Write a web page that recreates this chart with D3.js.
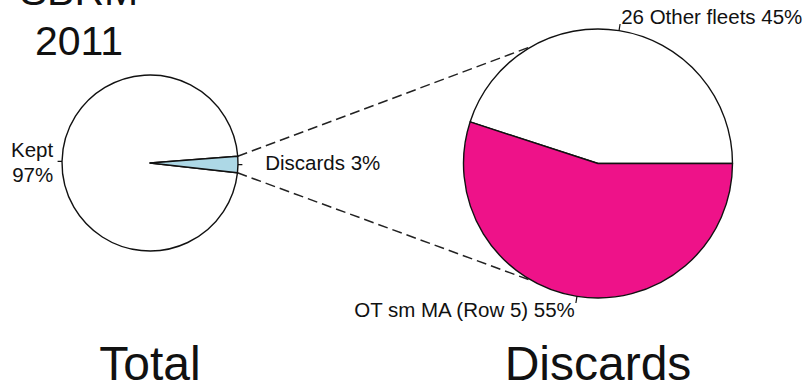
<!DOCTYPE html>
<html>
<head>
<meta charset="utf-8">
<script src="https://cdn.jsdelivr.net/npm/d3@7"></script>
<style>
  body { margin: 0; background: #fff; }
  text { font-family: "Liberation Sans", Arial, sans-serif; fill: #111; }
</style>
</head>
<body>
<div id="chart"></div>
<script>
// data
const titleLines = ["SBRM", "2011"];
const totalLabels = ["Kept", "Discards"];
const totalValues = [97, 3];
const totalColors = ["#ffffff", "#add8e6"];
const discardLabels = ["26 Other fleets", "OT sm MA (Row 5)"];
const discardValues = [45, 55];
const discardColors = ["#ffffff", "#ee1289"];
const panelTitles = ["Total", "Discards"];

const width = 807, height = 385;
const deg = Math.PI / 180;

const svg = d3.select('#chart').append('svg')
    .attr('width', width)
    .attr('height', height);

// layout
const left = { cx: 150, cy: 163, r: 88, start: 4.4 };   // start angle in degrees, counter-clockwise from east (like R)
const right = { cx: 598, cy: 163.5, r: 134.5, start: 0 };

// R style angle (ccw from east) -> d3 angle (cw from north)
const toD3 = a => Math.PI / 2 - a;

function makePie(cfg) {
    return d3.pie().sort(null)
        .startAngle(toD3(cfg.start * deg))
        .endAngle(toD3(cfg.start * deg) - 2 * Math.PI);
}

function drawPie(cfg, values, colors) {
    const arcs = makePie(cfg)(values);
    const arc = d3.arc().innerRadius(0).outerRadius(cfg.r);
    const g = svg.append('g').attr('transform', `translate(${cfg.cx},${cfg.cy})`);
    g.selectAll('path')
        .data(arcs)
        .enter().append('path')
        .attr('d', arc)
        .attr('fill', (d, i) => colors[i])
        .attr('stroke', '#111')
        .attr('stroke-width', 1.4)
        .attr('stroke-linejoin', 'round');
    // R angles of each slice (ccw from east)
    return arcs.map(d => ({
        a0: Math.PI / 2 - d.startAngle,
        a1: Math.PI / 2 - d.endAngle,
        mid: Math.PI / 2 - (d.startAngle + d.endAngle) / 2,
        value: d.value
    }));
}

const pt = (cfg, a, f) => [cfg.cx + f * cfg.r * Math.cos(a), cfg.cy - f * cfg.r * Math.sin(a)];

// connectors (drawn first so pies sit over them)
const totalArcs = makePie(left)(totalValues)
    .map(d => ({ a0: Math.PI / 2 - d.startAngle, a1: Math.PI / 2 - d.endAngle }));
const disc = totalArcs[1];
const connectorAngle = 119 * deg;
const conn = [
    [pt(left, disc.a1, 1), pt(right, connectorAngle, 1)],
    [pt(left, disc.a0, 1), pt(right, -connectorAngle, 1)]
];
svg.append('g')
    .selectAll('line')
    .data(conn)
    .enter().append('line')
    .attr('x1', d => d[0][0]).attr('y1', d => d[0][1])
    .attr('x2', d => d[1][0]).attr('y2', d => d[1][1])
    .attr('stroke', '#222')
    .attr('stroke-width', 1.5)
    .attr('stroke-dasharray', '10,5');

const leftSlices = drawPie(left, totalValues, totalColors);
const rightSlices = drawPie(right, discardValues, discardColors);

// tick marks and labels
function ticks(cfg, slices) {
    svg.append('g')
        .selectAll('line')
        .data(slices)
        .enter().append('line')
        .attr('x1', d => pt(cfg, d.mid, 1)[0]).attr('y1', d => pt(cfg, d.mid, 1)[1])
        .attr('x2', d => pt(cfg, d.mid, 1.05)[0]).attr('y2', d => pt(cfg, d.mid, 1.05)[1])
        .attr('stroke', '#111')
        .attr('stroke-width', 1.2);
}
ticks(left, leftSlices);
ticks(right, rightSlices);

const fs = 20.5;
// left pie labels
const keptPos = pt(left, leftSlices[0].mid, 1.1);
const kept = svg.append('text')
    .attr('text-anchor', 'end')
    .style('font-size', fs + 'px');
kept.append('tspan').attr('x', keptPos[0]).attr('y', keptPos[1] - 4).text(totalLabels[0]);
kept.append('tspan').attr('x', keptPos[0]).attr('y', keptPos[1] + 21).text(totalValues[0] + '%');

const discPos = pt(left, leftSlices[1].mid, 1.31);
svg.append('text')
    .attr('x', discPos[0])
    .attr('y', discPos[1] + 5)
    .style('font-size', fs + 'px')
    .text(`${totalLabels[1]} ${totalValues[1]}%`);

// right pie labels
svg.append('g')
    .selectAll('text')
    .data(rightSlices)
    .enter().append('text')
    .attr('x', d => pt(right, d.mid, 1.1)[0])
    .attr('y', d => pt(right, d.mid, 1.1)[1] + 7)
    .attr('text-anchor', d => Math.cos(d.mid) > 0 ? 'start' : 'end')
    .style('font-size', fs + 'px')
    .text((d, i) => `${discardLabels[i]} ${discardValues[i]}%`);

// titles
svg.append('g')
    .selectAll('text')
    .data(titleLines)
    .enter().append('text')
    .attr('x', 79)
    .attr('y', (d, i) => 5 + i * 50)
    .attr('text-anchor', 'middle')
    .style('font-size', '41px')
    .text(d => d);

svg.append('g')
    .selectAll('text')
    .data(panelTitles)
    .enter().append('text')
    .attr('x', (d, i) => [left.cx, right.cx][i])
    .attr('y', 380)
    .attr('text-anchor', 'middle')
    .style('font-size', '48px')
    .text(d => d);
</script>
</body>
</html>
